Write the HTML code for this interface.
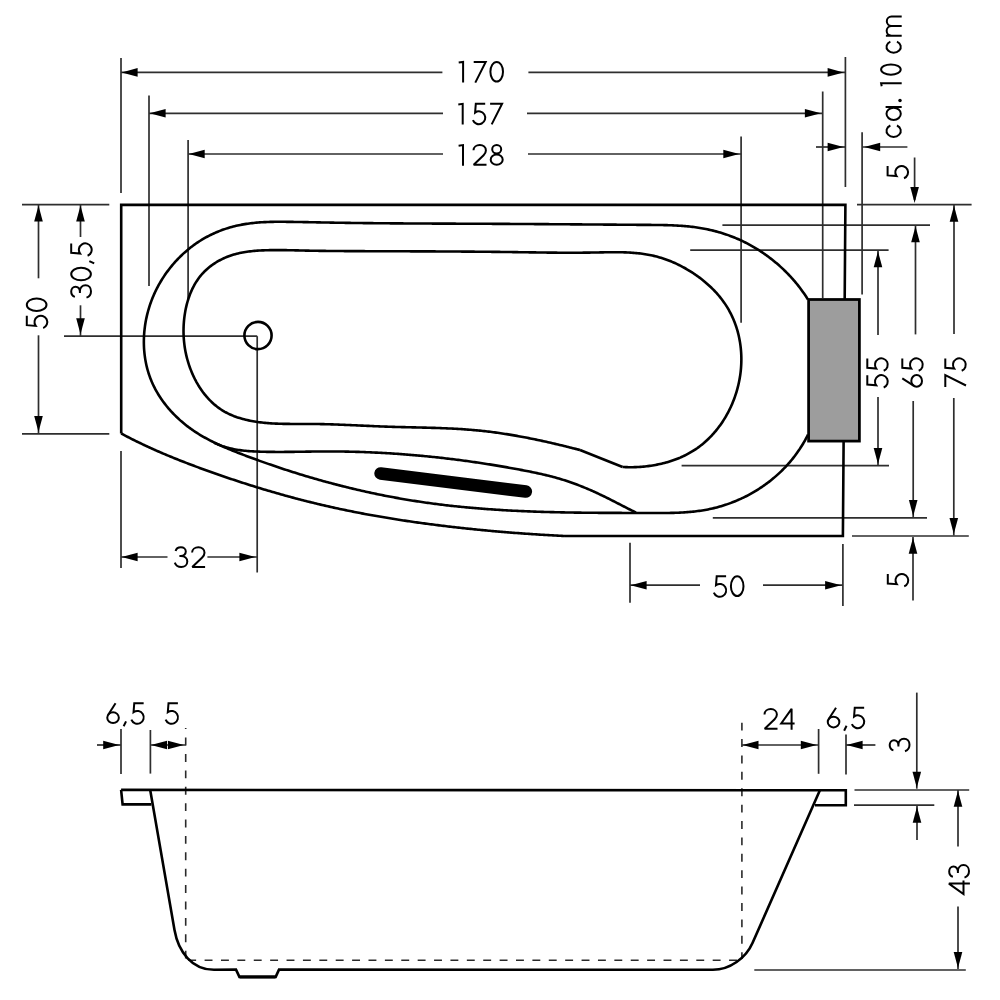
<!DOCTYPE html>
<html><head><meta charset="utf-8"><title>Bathtub drawing</title>
<style>html,body{margin:0;padding:0;background:#fff;font-family:"Liberation Sans",sans-serif;}svg{display:block}</style></head>
<body>
<svg width="1000" height="1000" viewBox="0 0 1000 1000" role="img" aria-label="Bathtub dimension drawing: top view and side view">
<rect width="1000" height="1000" fill="#fff"/>
<g stroke="#2e2e2e" stroke-width="1.7" fill="none" stroke-linecap="butt">
<line x1="121" y1="58" x2="121" y2="193"/>
<line x1="149" y1="95.5" x2="149" y2="286"/>
<line x1="188.1" y1="140" x2="188.1" y2="301"/>
<line x1="845.4" y1="57" x2="845.4" y2="187"/>
<line x1="822.7" y1="91.5" x2="822.7" y2="298"/>
<line x1="741.1" y1="136.4" x2="741.1" y2="322.8"/>
<line x1="862.1" y1="132.3" x2="862.1" y2="294.6"/>
<line x1="121" y1="72.4" x2="442.4" y2="72.4"/>
<polygon stroke="none" fill="#000" points="121.6,72.4 137.6,68.1 137.6,76.7"/>
<line x1="528.4" y1="72.4" x2="845.4" y2="72.4"/>
<polygon stroke="none" fill="#000" points="843.6,72.4 827.6,68.1 827.6,76.7"/>
<line x1="149" y1="113.3" x2="443" y2="113.3"/>
<polygon stroke="none" fill="#000" points="149.6,113.3 165.6,109 165.6,117.6"/>
<line x1="527" y1="113.3" x2="822.7" y2="113.3"/>
<polygon stroke="none" fill="#000" points="820.9,113.3 804.9,109 804.9,117.6"/>
<line x1="188.1" y1="154" x2="443" y2="154"/>
<polygon stroke="none" fill="#000" points="188.7,154 204.7,149.7 204.7,158.3"/>
<line x1="528" y1="154" x2="741.1" y2="154"/>
<polygon stroke="none" fill="#000" points="739.3,154 723.3,149.7 723.3,158.3"/>
<line x1="816" y1="147" x2="845.4" y2="147"/>
<polygon stroke="none" fill="#000" points="843.6,147 827.6,142.7 827.6,151.3"/>
<line x1="862.1" y1="147" x2="907.4" y2="147"/>
<polygon stroke="none" fill="#000" points="864.2,147 880.2,142.7 880.2,151.3"/>
<line x1="914.6" y1="157.5" x2="914.6" y2="200"/>
<polygon stroke="none" fill="#000" points="914.6,202.9 910.3,186.9 918.9,186.9"/>
<line x1="857" y1="204.7" x2="971.6" y2="204.7"/>
<line x1="954" y1="205" x2="954" y2="334"/>
<polygon stroke="none" fill="#000" points="954,205.8 949.7,221.8 958.3,221.8"/>
<line x1="953.8" y1="398" x2="953.8" y2="535.5"/>
<polygon stroke="none" fill="#000" points="953.8,534.1 949.5,518.1 958.1,518.1"/>
<line x1="722.4" y1="225.1" x2="930" y2="225.1"/>
<line x1="915.5" y1="225.5" x2="915.5" y2="334.4"/>
<polygon stroke="none" fill="#000" points="915.5,226.3 911.2,242.3 919.8,242.3"/>
<line x1="913.2" y1="401" x2="913.2" y2="517.5"/>
<polygon stroke="none" fill="#000" points="913.2,516.1 908.9,500.1 917.5,500.1"/>
<line x1="690.2" y1="250.1" x2="888.6" y2="250.1"/>
<line x1="878" y1="250.5" x2="878" y2="335"/>
<polygon stroke="none" fill="#000" points="878,251.3 873.7,267.3 882.3,267.3"/>
<line x1="878" y1="397" x2="878" y2="465.6"/>
<polygon stroke="none" fill="#000" points="878,463.9 873.7,447.9 882.3,447.9"/>
<line x1="681.6" y1="465.7" x2="889" y2="465.7"/>
<line x1="712.8" y1="517.8" x2="927" y2="517.8"/>
<line x1="852" y1="536" x2="968.8" y2="536"/>
<line x1="913" y1="537" x2="913" y2="600.5"/>
<polygon stroke="none" fill="#000" points="913,537.8 908.7,553.8 917.3,553.8"/>
<line x1="630" y1="542.8" x2="630" y2="602.8"/>
<line x1="842.9" y1="544" x2="842.9" y2="606"/>
<line x1="630" y1="585.2" x2="700" y2="585.2"/>
<polygon stroke="none" fill="#000" points="630.6,585.2 646.6,580.9 646.6,589.5"/>
<line x1="763" y1="585.2" x2="842.9" y2="585.2"/>
<polygon stroke="none" fill="#000" points="841.1,585.2 825.1,580.9 825.1,589.5"/>
<line x1="121" y1="451" x2="121" y2="568"/>
<line x1="257.2" y1="336.2" x2="257.2" y2="572.5"/>
<line x1="121" y1="557" x2="167.5" y2="557"/>
<polygon stroke="none" fill="#000" points="121.6,557 137.6,552.7 137.6,561.3"/>
<line x1="207.4" y1="557" x2="257.2" y2="557"/>
<polygon stroke="none" fill="#000" points="255.4,557 239.4,552.7 239.4,561.3"/>
<line x1="22" y1="204.7" x2="109.3" y2="204.7"/>
<line x1="22" y1="433.8" x2="109.3" y2="433.8"/>
<line x1="38.5" y1="204.7" x2="38.5" y2="278.3"/>
<polygon stroke="none" fill="#000" points="38.5,205.5 34.2,221.5 42.8,221.5"/>
<line x1="38.5" y1="335.3" x2="38.5" y2="433.8"/>
<polygon stroke="none" fill="#000" points="38.5,432.1 34.2,416.1 42.8,416.1"/>
<line x1="80.5" y1="204.7" x2="80.5" y2="237"/>
<polygon stroke="none" fill="#000" points="80.5,205.5 76.2,221.5 84.8,221.5"/>
<line x1="80.5" y1="305.3" x2="80.5" y2="336"/>
<polygon stroke="none" fill="#000" points="80.5,334.3 76.2,318.3 84.8,318.3"/>
<line x1="64" y1="336.1" x2="257.2" y2="336.1"/>
<line x1="121" y1="729" x2="121" y2="774"/>
<line x1="150.4" y1="730" x2="150.4" y2="773.6"/>
<line x1="97" y1="745" x2="121" y2="745"/>
<polygon stroke="none" fill="#000" points="119.2,745 103.2,740.7 103.2,749.3"/>
<line x1="150.4" y1="745" x2="185.7" y2="745"/>
<polygon stroke="none" fill="#000" points="151,745 167,740.7 167,749.3"/>
<polygon stroke="none" fill="#000" points="183.9,745 167.9,740.7 167.9,749.3"/>
<line x1="818.6" y1="729" x2="818.6" y2="773.8"/>
<line x1="846" y1="734.6" x2="846" y2="774.6"/>
<line x1="741.9" y1="745" x2="818.6" y2="745"/>
<polygon stroke="none" fill="#000" points="742.5,745 758.5,740.7 758.5,749.3"/>
<polygon stroke="none" fill="#000" points="816.8,745 800.8,740.7 800.8,749.3"/>
<line x1="846" y1="745" x2="875.4" y2="745"/>
<polygon stroke="none" fill="#000" points="846.6,745 862.6,740.7 862.6,749.3"/>
<line x1="916.8" y1="692.6" x2="916.8" y2="788.7"/>
<polygon stroke="none" fill="#000" points="916.8,787.8 912.5,771.8 921.1,771.8"/>
<line x1="854.5" y1="790" x2="969.2" y2="790"/>
<line x1="854" y1="805.1" x2="934.3" y2="805.1"/>
<line x1="917" y1="806" x2="917" y2="840"/>
<polygon stroke="none" fill="#000" points="917,806.8 912.7,822.8 921.3,822.8"/>
<line x1="958" y1="790" x2="958" y2="846.6"/>
<polygon stroke="none" fill="#000" points="958,790.8 953.7,806.8 962.3,806.8"/>
<line x1="958" y1="906.6" x2="958" y2="969"/>
<polygon stroke="none" fill="#000" points="958,967.9 953.7,951.9 962.3,951.9"/>
<line x1="754.3" y1="970" x2="965.8" y2="970"/>
</g>
<g stroke="#2a2a2a" stroke-width="1.6" fill="none" stroke-dasharray="7.9 8.49">
<path d="M185.7,728 L185.7,959" stroke-dashoffset="6.79"/>
<path d="M185.7,960.2 L741.9,960.2" stroke-dashoffset="13.88"/>
<path d="M741.9,722 L741.9,959" stroke-dashoffset="15.69"/>
</g>
<g stroke="#000" stroke-width="2.6" fill="none" stroke-linejoin="miter">
<path d="M121.2,433.5 L121.2,204.9 L845.4,204.9 L842.9,536 L565,536"/>
<path d="M565,536 L563.5,535.93 L561.99,535.85 L560.49,535.78 L558.99,535.7 L557.49,535.63 L555.98,535.55 L554.48,535.47 L552.98,535.39 L551.48,535.31 L549.97,535.22 L548.47,535.14 L546.97,535.05 L545.47,534.96 L543.97,534.87 L542.46,534.78 L540.96,534.69 L539.46,534.6 L537.96,534.51 L536.46,534.41 L534.95,534.32 L533.45,534.22 L531.95,534.12 L530.45,534.02 L528.95,533.92 L527.45,533.81 L525.94,533.71 L524.44,533.6 L522.94,533.5 L521.44,533.39 L519.94,533.28 L518.44,533.17 L516.94,533.06 L515.44,532.94 L513.94,532.83 L512.44,532.71 L510.94,532.59 L509.44,532.48 L507.94,532.36 L506.44,532.23 L504.94,532.11 L503.44,531.99 L501.94,531.86 L500.44,531.73 L498.94,531.61 L497.44,531.48 L495.94,531.35 L494.44,531.21 L492.94,531.08 L491.44,530.94 L489.94,530.81 L488.44,530.67 L486.94,530.53 L485.44,530.39 L483.95,530.25 L482.45,530.11 L480.95,529.96 L479.45,529.81 L477.95,529.67 L476.46,529.52 L474.96,529.37 L473.46,529.22 L471.96,529.06 L470.47,528.91 L468.97,528.75 L467.47,528.6 L465.98,528.44 L464.48,528.28 L462.98,528.12 L461.49,527.95 L459.99,527.79 L458.49,527.62 L457,527.45 L455.5,527.29 L454.01,527.12 L452.51,526.94 L451.02,526.77 L449.52,526.6 L448.03,526.42 L446.53,526.24 L445.04,526.07 L443.54,525.89 L442.05,525.7 L440.55,525.52 L439.06,525.34 L437.57,525.15 L436.07,524.96 L434.58,524.77 L433.09,524.58 L431.59,524.39 L430.1,524.2 L428.61,524 L427.12,523.8 L425.62,523.61 L424.13,523.41 L422.64,523.2 L421.15,523 L419.66,522.79 L418.17,522.59 L416.68,522.38 L415.19,522.17 L413.7,521.96 L412.21,521.74 L410.72,521.53 L409.23,521.31 L407.74,521.09 L406.25,520.87 L404.76,520.65 L403.27,520.42 L401.79,520.2 L400.3,519.97 L398.81,519.74 L397.33,519.51 L395.84,519.27 L394.35,519.04 L392.87,518.8 L391.38,518.56 L389.9,518.32 L388.41,518.08 L386.93,517.83 L385.44,517.59 L383.96,517.34 L382.48,517.09 L380.99,516.83 L379.51,516.58 L378.03,516.32 L376.55,516.06 L375.07,515.8 L373.58,515.54 L372.1,515.27 L370.62,515.01 L369.14,514.74 L367.66,514.47 L366.18,514.19 L364.71,513.92 L363.23,513.64 L361.75,513.36 L360.27,513.08 L358.8,512.79 L357.32,512.51 L355.84,512.22 L354.37,511.93 L352.89,511.64 L351.42,511.34 L349.94,511.04 L348.47,510.74 L346.99,510.44 L345.52,510.14 L344.05,509.83 L342.58,509.52 L341.11,509.21 L339.63,508.9 L338.16,508.58 L336.69,508.27 L335.22,507.95 L333.75,507.62 L332.29,507.3 L330.82,506.97 L329.35,506.64 L327.88,506.31 L326.42,505.97 L324.95,505.64 L323.49,505.3 L322.02,504.95 L320.56,504.61 L319.09,504.26 L317.63,503.91 L316.17,503.56 L314.7,503.21 L313.24,502.85 L311.78,502.49 L310.32,502.13 L308.86,501.77 L307.4,501.4 L305.94,501.03 L304.48,500.66 L303.03,500.29 L301.57,499.92 L300.11,499.54 L298.66,499.16 L297.2,498.78 L295.74,498.39 L294.29,498.01 L292.84,497.62 L291.38,497.23 L289.93,496.83 L288.48,496.44 L287.03,496.04 L285.57,495.64 L284.12,495.24 L282.67,494.83 L281.23,494.43 L279.78,494.02 L278.33,493.61 L276.88,493.19 L275.43,492.78 L273.99,492.36 L272.54,491.94 L271.1,491.52 L269.65,491.09 L268.21,490.67 L266.76,490.24 L265.32,489.81 L263.88,489.38 L262.44,488.94 L261,488.51 L259.56,488.07 L258.12,487.63 L256.68,487.19 L255.24,486.74 L253.8,486.3 L252.36,485.85 L250.93,485.4 L249.49,484.94 L248.05,484.49 L246.62,484.03 L245.19,483.58 L243.75,483.12 L242.32,482.65 L240.89,482.19 L239.45,481.72 L238.02,481.25 L236.59,480.78 L235.16,480.31 L233.73,479.84 L232.31,479.36 L230.88,478.89 L229.45,478.41 L228.02,477.93 L226.6,477.44 L225.17,476.96 L223.75,476.47 L222.32,475.98 L220.9,475.49 L219.48,475 L218.05,474.51 L216.63,474.01 L215.21,473.51 L213.79,473.02 L212.37,472.51 L210.95,472.01 L209.54,471.51 L208.12,471 L206.7,470.49 L205.29,469.98 L203.87,469.47 L202.46,468.96 L201.04,468.44 L199.63,467.92 L198.22,467.4 L196.81,466.88 L195.4,466.36 L193.99,465.83 L192.58,465.3 L191.17,464.77 L189.77,464.24 L188.36,463.7 L186.96,463.16 L185.55,462.62 L184.15,462.07 L182.75,461.53 L181.35,460.98 L179.95,460.43 L178.56,459.87 L177.16,459.31 L175.76,458.75 L174.37,458.19 L172.98,457.63 L171.59,457.06 L170.2,456.48 L168.81,455.91 L167.42,455.33 L166.03,454.75 L164.65,454.16 L163.27,453.58 L161.88,452.98 L160.5,452.39 L159.12,451.79 L157.75,451.19 L156.37,450.59 L155,449.98 L153.62,449.37 L152.25,448.75 L150.88,448.13 L149.51,447.51 L148.15,446.88 L146.78,446.25 L145.42,445.62 L144.06,444.98 L142.7,444.34 L141.34,443.69 L139.99,443.04 L138.63,442.39 L137.28,441.73 L135.93,441.07 L134.58,440.4 L133.23,439.73 L131.89,439.06 L130.54,438.38 L129.2,437.69 L127.86,437.01 L126.53,436.31 L125.19,435.62 L123.86,434.92 L122.53,434.21 L121.2,433.5"/>
<path d="M808,434.6 L807.32,435.97 L806.62,437.33 L805.91,438.68 L805.18,440.02 L804.44,441.34 L803.68,442.66 L802.91,443.97 L802.12,445.27 L801.32,446.56 L800.5,447.83 L799.67,449.1 L798.83,450.35 L797.97,451.6 L797.1,452.83 L796.21,454.06 L795.31,455.27 L794.4,456.47 L793.48,457.66 L792.54,458.84 L791.59,460.01 L790.63,461.16 L789.65,462.31 L788.66,463.44 L787.66,464.57 L786.65,465.68 L785.63,466.78 L784.59,467.87 L783.54,468.94 L782.48,470.01 L781.41,471.06 L780.33,472.1 L779.24,473.13 L778.14,474.15 L777.02,475.15 L775.9,476.15 L774.76,477.13 L773.62,478.1 L772.46,479.06 L771.3,480 L770.13,480.93 L768.94,481.85 L767.75,482.76 L766.54,483.65 L765.33,484.54 L764.11,485.41 L762.88,486.26 L761.64,487.11 L760.39,487.94 L759.14,488.76 L757.87,489.56 L756.6,490.35 L755.32,491.13 L754.03,491.9 L752.73,492.65 L751.43,493.39 L750.12,494.12 L748.8,494.83 L747.48,495.53 L746.14,496.22 L744.8,496.89 L743.46,497.55 L742.11,498.19 L740.75,498.82 L739.38,499.44 L738.01,500.04 L736.63,500.63 L735.25,501.21 L733.86,501.77 L732.47,502.32 L731.07,502.85 L729.67,503.37 L728.26,503.87 L726.84,504.36 L725.42,504.84 L724,505.3 L722.57,505.75 L721.14,506.18 L719.7,506.6 L718.26,507 L716.82,507.39 L715.37,507.76 L713.92,508.12 L712.47,508.46 L711.01,508.79 L709.55,509.1 L708.08,509.4 L706.62,509.68 L705.15,509.95 L703.68,510.21 L702.2,510.44 L700.73,510.67 L699.25,510.88 L697.77,511.08 L696.28,511.27 L694.8,511.44 L693.31,511.61 L691.82,511.76 L690.33,511.9 L688.83,512.03 L687.34,512.15 L685.84,512.26 L684.35,512.36 L682.85,512.45 L681.35,512.54 L679.84,512.61 L678.34,512.68 L676.84,512.74 L675.33,512.79 L673.83,512.84 L672.32,512.88 L670.81,512.91 L669.31,512.94 L667.8,512.96 L666.29,512.98 L664.78,513 L663.27,513.01 L661.76,513.02 L660.25,513.02 L658.74,513.02 L657.23,513.02 L655.72,513.02 L654.22,513.02 L652.71,513.01 L651.2,513 L649.69,513 L648.18,512.99 L646.68,512.99 L645.17,512.98 L643.67,512.98 L642.16,512.97 L640.66,512.97 L639.15,512.96 L637.65,512.96 L636.15,512.96 L634.65,512.95 L633.15,512.95 L631.64,512.95 L630.14,512.94 L628.64,512.94 L627.14,512.94 L625.64,512.93 L624.14,512.93 L622.64,512.93 L621.14,512.92 L619.64,512.92 L618.14,512.92 L616.64,512.91 L615.14,512.91 L613.64,512.9 L612.14,512.9 L610.64,512.89 L609.14,512.89 L607.64,512.88 L606.14,512.87 L604.64,512.87 L603.13,512.86 L601.63,512.85 L600.13,512.84 L598.63,512.83 L597.13,512.82 L595.62,512.81 L594.12,512.8 L592.62,512.79 L591.12,512.77 L589.62,512.76 L588.11,512.75 L586.61,512.73 L585.11,512.72 L583.6,512.7 L582.1,512.68 L580.6,512.66 L579.09,512.64 L577.59,512.63 L576.09,512.6 L574.58,512.58 L573.08,512.56 L571.58,512.54 L570.07,512.51 L568.57,512.49 L567.07,512.46 L565.56,512.43 L564.06,512.4 L562.56,512.37 L561.05,512.34 L559.55,512.31 L558.04,512.28 L556.54,512.25 L555.04,512.21 L553.53,512.17 L552.03,512.14 L550.52,512.1 L549.02,512.06 L547.52,512.02 L546.01,511.97 L544.51,511.93 L543.01,511.89 L541.5,511.84 L540,511.79 L538.5,511.74 L536.99,511.69 L535.49,511.64 L533.99,511.59 L532.48,511.53 L530.98,511.47 L529.48,511.42 L527.97,511.36 L526.47,511.3 L524.97,511.23 L523.46,511.17 L521.96,511.1 L520.46,511.04 L518.96,510.97 L517.46,510.9 L515.95,510.82 L514.45,510.75 L512.95,510.68 L511.45,510.6 L509.95,510.52 L508.44,510.44 L506.94,510.35 L505.44,510.27 L503.94,510.18 L502.44,510.1 L500.94,510.01 L499.44,509.91 L497.94,509.82 L496.44,509.72 L494.94,509.63 L493.44,509.53 L491.94,509.42 L490.44,509.32 L488.94,509.21 L487.44,509.11 L485.95,509 L484.45,508.88 L482.95,508.77 L481.45,508.65 L479.95,508.54 L478.46,508.41 L476.96,508.29 L475.46,508.17 L473.97,508.04 L472.47,507.91 L470.97,507.78 L469.48,507.64 L467.98,507.51 L466.49,507.37 L464.99,507.23 L463.5,507.08 L462,506.94 L460.51,506.79 L459.02,506.64 L457.52,506.49 L456.03,506.33 L454.54,506.17 L453.05,506.01 L451.55,505.85 L450.06,505.68 L448.57,505.51 L447.08,505.34 L445.59,505.17 L444.1,504.99 L442.61,504.82 L441.12,504.63 L439.63,504.45 L438.14,504.26 L436.65,504.07 L435.17,503.88 L433.68,503.69 L432.19,503.49 L430.7,503.29 L429.22,503.08 L427.73,502.88 L426.25,502.67 L424.76,502.46 L423.28,502.24 L421.79,502.02 L420.31,501.8 L418.82,501.58 L417.34,501.35 L415.86,501.12 L414.38,500.89 L412.9,500.66 L411.41,500.42 L409.93,500.18 L408.45,499.93 L406.97,499.69 L405.5,499.44 L404.02,499.19 L402.54,498.93 L401.06,498.67 L399.58,498.41 L398.11,498.15 L396.63,497.88 L395.15,497.62 L393.68,497.34 L392.2,497.07 L390.73,496.79 L389.25,496.51 L387.78,496.23 L386.31,495.94 L384.84,495.66 L383.36,495.37 L381.89,495.07 L380.42,494.77 L378.95,494.48 L377.48,494.17 L376.01,493.87 L374.54,493.56 L373.07,493.25 L371.61,492.94 L370.14,492.62 L368.67,492.31 L367.21,491.98 L365.74,491.66 L364.28,491.34 L362.81,491.01 L361.35,490.67 L359.88,490.34 L358.42,490 L356.96,489.66 L355.5,489.32 L354.04,488.98 L352.57,488.63 L351.11,488.28 L349.66,487.93 L348.2,487.57 L346.74,487.21 L345.28,486.85 L343.82,486.49 L342.37,486.12 L340.91,485.75 L339.46,485.38 L338,485.01 L336.55,484.63 L335.09,484.25 L333.64,483.87 L332.19,483.49 L330.74,483.1 L329.28,482.71 L327.83,482.32 L326.38,481.93 L324.93,481.53 L323.49,481.13 L322.04,480.73 L320.59,480.32 L319.14,479.92 L317.7,479.51 L316.25,479.1 L314.81,478.68 L313.36,478.26 L311.92,477.84 L310.48,477.42 L309.03,477 L307.59,476.57 L306.15,476.14 L304.71,475.71 L303.27,475.27 L301.83,474.84 L300.39,474.4 L298.96,473.96 L297.52,473.51 L296.08,473.06 L294.65,472.61 L293.21,472.16 L291.78,471.71 L290.35,471.25 L288.91,470.79 L287.48,470.33 L286.05,469.87 L284.62,469.4 L283.19,468.93 L281.76,468.46 L280.33,467.99 L278.9,467.51 L277.48,467.03 L276.05,466.55 L274.63,466.07 L273.2,465.58 L271.78,465.1 L270.35,464.6 L268.93,464.11 L267.51,463.62 L266.09,463.12 L264.67,462.62 L263.25,462.12 L261.83,461.61 L260.41,461.11 L258.99,460.6 L257.58,460.09 L256.16,459.57 L254.74,459.06 L253.33,458.54 L251.92,458.02 L250.5,457.49 L249.09,456.97 L247.68,456.44 L246.27,455.91 L244.86,455.38 L243.45,454.84 L242.04,454.31 L240.64,453.77 L239.23,453.23 L237.83,452.68 L236.42,452.13 L235.02,451.58 L233.62,451.02 L232.23,450.46 L230.83,449.89 L229.44,449.32 L228.05,448.74 L226.67,448.16 L225.29,447.57 L223.91,446.97 L222.53,446.37 L221.16,445.76 L219.79,445.14 L218.43,444.51 L217.07,443.88 L215.72,443.24 L214.37,442.59 L213.03,441.93 L211.69,441.26 L210.35,440.58 L209.03,439.89 L207.71,439.19 L206.39,438.48 L205.08,437.76 L203.78,437.03 L202.48,436.29 L201.19,435.53 L199.91,434.77 L198.64,433.99 L197.37,433.19 L196.11,432.39 L194.86,431.57 L193.62,430.74 L192.38,429.89 L191.15,429.03 L189.94,428.15 L188.73,427.26 L187.53,426.35 L186.34,425.43 L185.16,424.5 L183.99,423.55 L182.83,422.58 L181.68,421.6 L180.54,420.61 L179.41,419.6 L178.3,418.58 L177.19,417.54 L176.1,416.49 L175.03,415.43 L173.96,414.36 L172.91,413.27 L171.88,412.17 L170.85,411.05 L169.85,409.93 L168.85,408.79 L167.87,407.64 L166.91,406.47 L165.97,405.3 L165.04,404.11 L164.12,402.92 L163.22,401.71 L162.34,400.49 L161.48,399.26 L160.64,398.02 L159.81,396.76 L159,395.5 L158.21,394.23 L157.44,392.95 L156.69,391.65 L155.96,390.35 L155.25,389.04 L154.56,387.72 L153.89,386.38 L153.24,385.04 L152.62,383.69 L152.01,382.34 L151.43,380.97 L150.87,379.59 L150.33,378.21 L149.81,376.82 L149.32,375.42 L148.85,374.02 L148.4,372.6 L147.97,371.18 L147.56,369.76 L147.18,368.33 L146.81,366.89 L146.47,365.44 L146.15,363.99 L145.85,362.54 L145.57,361.08 L145.32,359.62 L145.08,358.15 L144.87,356.68 L144.67,355.2 L144.5,353.72 L144.35,352.24 L144.22,350.75 L144.1,349.26 L144.01,347.77 L143.95,346.28 L143.9,344.78 L143.87,343.29 L143.86,341.79 L143.87,340.29 L143.9,338.79 L143.96,337.29 L144.03,335.79 L144.12,334.29 L144.23,332.79 L144.36,331.29 L144.52,329.79 L144.69,328.29 L144.88,326.8 L145.09,325.3 L145.32,323.81 L145.57,322.32 L145.84,320.83 L146.12,319.34 L146.43,317.86 L146.76,316.38 L147.1,314.91 L147.47,313.44 L147.85,311.97 L148.25,310.5 L148.67,309.05 L149.11,307.59 L149.57,306.14 L150.04,304.7 L150.54,303.26 L151.05,301.83 L151.58,300.41 L152.13,298.99 L152.69,297.58 L153.28,296.17 L153.88,294.77 L154.5,293.38 L155.14,292 L155.8,290.63 L156.47,289.26 L157.16,287.9 L157.87,286.56 L158.6,285.22 L159.34,283.89 L160.1,282.56 L160.87,281.25 L161.66,279.95 L162.47,278.66 L163.29,277.38 L164.13,276.11 L164.99,274.84 L165.86,273.59 L166.74,272.36 L167.64,271.13 L168.55,269.91 L169.48,268.71 L170.43,267.51 L171.38,266.33 L172.35,265.16 L173.34,264.01 L174.34,262.86 L175.35,261.73 L176.37,260.61 L177.41,259.51 L178.46,258.41 L179.53,257.34 L180.6,256.27 L181.69,255.22 L182.79,254.18 L183.91,253.16 L185.03,252.16 L186.17,251.16 L187.32,250.19 L188.47,249.22 L189.64,248.28 L190.82,247.35 L192.02,246.43 L193.22,245.53 L194.43,244.65 L195.65,243.78 L196.88,242.93 L198.13,242.1 L199.38,241.28 L200.64,240.48 L201.91,239.7 L203.19,238.94 L204.47,238.19 L205.77,237.46 L207.07,236.75 L208.39,236.06 L209.71,235.38 L211.04,234.72 L212.37,234.08 L213.72,233.46 L215.07,232.86 L216.43,232.27 L217.79,231.7 L219.17,231.15 L220.54,230.61 L221.93,230.09 L223.32,229.59 L224.72,229.11 L226.12,228.64 L227.53,228.19 L228.95,227.76 L230.37,227.35 L231.79,226.95 L233.22,226.57 L234.66,226.2 L236.1,225.85 L237.54,225.52 L238.99,225.21 L240.45,224.91 L241.9,224.63 L243.36,224.37 L244.83,224.12 L246.3,223.88 L247.77,223.67 L249.24,223.46 L250.72,223.28 L252.2,223.1 L253.68,222.94 L255.17,222.79 L256.66,222.66 L258.15,222.53 L259.64,222.42 L261.14,222.32 L262.63,222.23 L264.13,222.15 L265.64,222.08 L267.14,222.01 L268.64,221.96 L270.15,221.92 L271.66,221.88 L273.16,221.85 L274.67,221.82 L276.18,221.81 L277.69,221.8 L279.2,221.79 L280.72,221.79 L282.23,221.79 L283.74,221.8 L285.25,221.81 L286.77,221.83 L288.28,221.84 L289.79,221.86 L291.3,221.88 L292.81,221.91 L294.32,221.93 L295.83,221.95 L297.34,221.98 L298.85,222 L300.36,222.03 L301.87,222.05 L303.37,222.08 L304.88,222.11 L306.39,222.14 L307.89,222.17 L309.4,222.19 L310.91,222.22 L312.41,222.25 L313.92,222.28 L315.42,222.31 L316.92,222.34 L318.43,222.37 L319.93,222.4 L321.44,222.43 L322.94,222.46 L324.44,222.49 L325.95,222.52 L327.45,222.54 L328.95,222.57 L330.46,222.6 L331.96,222.63 L333.46,222.65 L334.97,222.68 L336.47,222.7 L337.97,222.73 L339.48,222.75 L340.98,222.77 L342.48,222.8 L343.99,222.82 L345.49,222.84 L346.99,222.86 L348.49,222.89 L350,222.91 L351.5,222.93 L353,222.95 L354.51,222.97 L356.01,222.99 L357.51,223.01 L359.02,223.02 L360.52,223.04 L362.02,223.06 L363.52,223.08 L365.03,223.09 L366.53,223.11 L368.03,223.13 L369.53,223.14 L371.04,223.16 L372.54,223.17 L374.04,223.19 L375.55,223.2 L377.05,223.22 L378.55,223.23 L380.05,223.25 L381.56,223.26 L383.06,223.27 L384.56,223.29 L386.06,223.3 L387.57,223.31 L389.07,223.32 L390.57,223.33 L392.07,223.35 L393.58,223.36 L395.08,223.37 L396.58,223.38 L398.08,223.39 L399.58,223.4 L401.09,223.41 L402.59,223.42 L404.09,223.43 L405.59,223.44 L407.1,223.45 L408.6,223.46 L410.1,223.47 L411.6,223.47 L413.11,223.48 L414.61,223.49 L416.11,223.5 L417.61,223.51 L419.11,223.51 L420.62,223.52 L422.12,223.53 L423.62,223.54 L425.12,223.54 L426.62,223.55 L428.13,223.56 L429.63,223.57 L431.13,223.57 L432.63,223.58 L434.13,223.59 L435.64,223.59 L437.14,223.6 L438.64,223.61 L440.14,223.61 L441.64,223.62 L443.15,223.62 L444.65,223.63 L446.15,223.64 L447.65,223.64 L449.15,223.65 L450.66,223.65 L452.16,223.66 L453.66,223.67 L455.16,223.67 L456.66,223.68 L458.17,223.68 L459.67,223.69 L461.17,223.69 L462.67,223.7 L464.17,223.71 L465.67,223.71 L467.18,223.72 L468.68,223.72 L470.18,223.73 L471.68,223.74 L473.18,223.74 L474.69,223.75 L476.19,223.76 L477.69,223.76 L479.19,223.77 L480.69,223.78 L482.19,223.78 L483.7,223.79 L485.2,223.8 L486.7,223.8 L488.2,223.81 L489.7,223.82 L491.2,223.82 L492.71,223.83 L494.21,223.84 L495.71,223.85 L497.21,223.85 L498.71,223.86 L500.21,223.87 L501.72,223.88 L503.22,223.89 L504.72,223.89 L506.22,223.9 L507.72,223.91 L509.23,223.92 L510.73,223.93 L512.23,223.94 L513.73,223.95 L515.23,223.96 L516.73,223.96 L518.24,223.97 L519.74,223.98 L521.24,223.99 L522.74,224 L524.24,224.01 L525.75,224.02 L527.25,224.03 L528.75,224.04 L530.25,224.05 L531.75,224.06 L533.26,224.07 L534.76,224.08 L536.26,224.09 L537.76,224.1 L539.26,224.11 L540.77,224.12 L542.27,224.13 L543.77,224.14 L545.27,224.15 L546.77,224.16 L548.28,224.17 L549.78,224.18 L551.28,224.19 L552.78,224.2 L554.29,224.22 L555.79,224.23 L557.29,224.24 L558.79,224.25 L560.3,224.26 L561.8,224.27 L563.3,224.28 L564.8,224.29 L566.31,224.3 L567.81,224.31 L569.31,224.32 L570.81,224.34 L572.32,224.35 L573.82,224.36 L575.32,224.37 L576.82,224.38 L578.33,224.39 L579.83,224.4 L581.33,224.41 L582.84,224.43 L584.34,224.44 L585.84,224.45 L587.35,224.46 L588.85,224.47 L590.35,224.48 L591.86,224.49 L593.36,224.5 L594.86,224.52 L596.37,224.53 L597.87,224.54 L599.37,224.55 L600.88,224.56 L602.38,224.57 L603.88,224.58 L605.39,224.6 L606.89,224.61 L608.4,224.62 L609.9,224.63 L611.4,224.64 L612.91,224.65 L614.41,224.66 L615.92,224.67 L617.42,224.68 L618.92,224.7 L620.43,224.71 L621.93,224.72 L623.44,224.73 L624.94,224.74 L626.45,224.75 L627.95,224.76 L629.46,224.77 L630.96,224.78 L632.47,224.79 L633.97,224.81 L635.48,224.82 L636.98,224.83 L638.49,224.84 L639.99,224.85 L641.5,224.86 L643,224.87 L644.51,224.88 L646.01,224.89 L647.52,224.9 L649.03,224.91 L650.53,224.92 L652.04,224.93 L653.54,224.94 L655.05,224.96 L656.55,224.97 L658.06,224.99 L659.56,225.01 L661.07,225.03 L662.57,225.06 L664.08,225.09 L665.58,225.12 L667.08,225.16 L668.58,225.21 L670.08,225.25 L671.58,225.31 L673.08,225.37 L674.58,225.44 L676.08,225.51 L677.58,225.59 L679.07,225.68 L680.57,225.78 L682.06,225.88 L683.55,226 L685.05,226.12 L686.54,226.25 L688.02,226.39 L689.51,226.55 L691,226.71 L692.48,226.88 L693.96,227.07 L695.45,227.27 L696.93,227.48 L698.4,227.7 L699.88,227.94 L701.35,228.18 L702.82,228.44 L704.29,228.72 L705.76,229 L707.22,229.3 L708.69,229.61 L710.14,229.94 L711.6,230.28 L713.05,230.63 L714.5,230.99 L715.95,231.37 L717.39,231.76 L718.83,232.17 L720.27,232.59 L721.7,233.02 L723.13,233.46 L724.55,233.92 L725.97,234.4 L727.39,234.89 L728.8,235.39 L730.2,235.91 L731.6,236.44 L733,236.98 L734.39,237.54 L735.78,238.12 L737.16,238.71 L738.54,239.31 L739.91,239.92 L741.27,240.55 L742.63,241.2 L743.99,241.85 L745.33,242.53 L746.67,243.21 L748.01,243.91 L749.34,244.62 L750.66,245.34 L751.97,246.08 L753.28,246.83 L754.59,247.59 L755.88,248.36 L757.17,249.15 L758.45,249.95 L759.72,250.76 L760.99,251.59 L762.24,252.42 L763.49,253.27 L764.73,254.13 L765.97,255 L767.19,255.89 L768.41,256.78 L769.62,257.69 L770.82,258.61 L772.01,259.54 L773.19,260.48 L774.37,261.43 L775.53,262.39 L776.69,263.36 L777.83,264.35 L778.97,265.34 L780.1,266.35 L781.21,267.36 L782.32,268.39 L783.42,269.43 L784.5,270.47 L785.58,271.53 L786.65,272.59 L787.7,273.67 L788.75,274.76 L789.78,275.85 L790.81,276.96 L791.82,278.07 L792.82,279.19 L793.81,280.33 L794.79,281.47 L795.75,282.62 L796.71,283.78 L797.65,284.94 L798.58,286.12 L799.5,287.31 L800.41,288.5 L801.3,289.7 L802.19,290.91 L803.06,292.13 L803.91,293.35 L804.76,294.59 L805.59,295.83 L806.4,297.08 L807.21,298.34 L808,299.6"/>
<path d="M622.6,467 L580,450"/>
<path d="M580,450 L578.55,449.63 L577.09,449.25 L575.64,448.88 L574.18,448.51 L572.73,448.14 L571.27,447.78 L569.82,447.41 L568.36,447.05 L566.9,446.69 L565.44,446.33 L563.98,445.97 L562.52,445.61 L561.06,445.26 L559.6,444.91 L558.14,444.56 L556.68,444.21 L555.21,443.87 L553.75,443.53 L552.29,443.19 L550.82,442.85 L549.36,442.51 L547.89,442.18 L546.42,441.85 L544.96,441.53 L543.49,441.2 L542.02,440.88 L540.55,440.56 L539.08,440.24 L537.61,439.93 L536.14,439.62 L534.67,439.32 L533.2,439.01 L531.72,438.71 L530.25,438.41 L528.78,438.12 L527.3,437.83 L525.83,437.54 L524.35,437.26 L522.87,436.98 L521.4,436.7 L519.92,436.43 L518.44,436.16 L516.96,435.89 L515.48,435.63 L514,435.38 L512.52,435.12 L511.04,434.87 L509.56,434.63 L508.08,434.38 L506.6,434.15 L505.11,433.91 L503.63,433.68 L502.14,433.46 L500.66,433.24 L499.17,433.02 L497.69,432.81 L496.2,432.6 L494.71,432.4 L493.23,432.2 L491.74,432.01 L490.25,431.82 L488.76,431.64 L487.27,431.46 L485.78,431.28 L484.29,431.12 L482.8,430.95 L481.31,430.79 L479.81,430.64 L478.32,430.49 L476.83,430.35 L475.33,430.21 L473.84,430.08 L472.34,429.95 L470.85,429.82 L469.35,429.7 L467.86,429.59 L466.36,429.48 L464.86,429.37 L463.36,429.27 L461.87,429.17 L460.37,429.07 L458.87,428.98 L457.37,428.89 L455.87,428.81 L454.37,428.73 L452.87,428.65 L451.37,428.57 L449.87,428.5 L448.37,428.43 L446.87,428.37 L445.36,428.3 L443.86,428.24 L442.36,428.18 L440.86,428.13 L439.36,428.07 L437.85,428.02 L436.35,427.97 L434.85,427.92 L433.34,427.88 L431.84,427.83 L430.34,427.79 L428.83,427.74 L427.33,427.7 L425.83,427.66 L424.32,427.63 L422.82,427.59 L421.32,427.55 L419.81,427.51 L418.31,427.48 L416.8,427.44 L415.3,427.41 L413.8,427.37 L412.29,427.34 L410.79,427.3 L409.28,427.27 L407.78,427.23 L406.28,427.2 L404.77,427.16 L403.27,427.12 L401.77,427.09 L400.26,427.05 L398.76,427.01 L397.26,426.97 L395.75,426.93 L394.25,426.88 L392.75,426.84 L391.25,426.79 L389.75,426.75 L388.24,426.7 L386.74,426.65 L385.24,426.59 L383.74,426.54 L382.24,426.48 L380.74,426.43 L379.24,426.37 L377.74,426.31 L376.24,426.25 L374.74,426.18 L373.24,426.12 L371.74,426.05 L370.24,425.99 L368.74,425.92 L367.24,425.86 L365.74,425.79 L364.24,425.72 L362.74,425.66 L361.24,425.59 L359.74,425.52 L358.25,425.45 L356.75,425.39 L355.25,425.32 L353.75,425.25 L352.25,425.19 L350.75,425.12 L349.25,425.06 L347.75,424.99 L346.25,424.93 L344.75,424.87 L343.26,424.8 L341.76,424.74 L340.26,424.69 L338.76,424.63 L337.26,424.57 L335.76,424.52 L334.26,424.47 L332.76,424.41 L331.26,424.37 L329.76,424.32 L328.26,424.27 L326.76,424.23 L325.26,424.19 L323.76,424.16 L322.26,424.12 L320.75,424.09 L319.25,424.06 L317.75,424.03 L316.25,424.01 L314.75,423.99 L313.24,423.97 L311.74,423.96 L310.24,423.95 L308.73,423.94 L307.23,423.93 L305.73,423.93 L304.22,423.93 L302.72,423.93 L301.21,423.94 L299.71,423.94 L298.2,423.94 L296.7,423.94 L295.19,423.94 L293.68,423.94 L292.18,423.94 L290.67,423.93 L289.17,423.92 L287.66,423.91 L286.16,423.89 L284.65,423.87 L283.14,423.84 L281.64,423.8 L280.13,423.76 L278.62,423.71 L277.12,423.65 L275.61,423.59 L274.11,423.51 L272.6,423.43 L271.1,423.34 L269.59,423.23 L268.08,423.12 L266.58,422.99 L265.07,422.85 L263.57,422.7 L262.07,422.54 L260.56,422.36 L259.06,422.17 L257.55,421.96 L256.05,421.74 L254.55,421.5 L253.06,421.24 L251.56,420.97 L250.07,420.68 L248.59,420.37 L247.11,420.05 L245.64,419.7 L244.18,419.33 L242.72,418.95 L241.27,418.54 L239.83,418.11 L238.4,417.66 L236.98,417.19 L235.58,416.69 L234.18,416.17 L232.8,415.62 L231.43,415.05 L230.07,414.45 L228.74,413.83 L227.41,413.18 L226.1,412.5 L224.81,411.8 L223.54,411.06 L222.29,410.3 L221.05,409.51 L219.83,408.69 L218.64,407.84 L217.46,406.96 L216.3,406.06 L215.16,405.13 L214.04,404.18 L212.94,403.2 L211.86,402.2 L210.79,401.17 L209.75,400.13 L208.73,399.05 L207.72,397.96 L206.74,396.85 L205.77,395.71 L204.83,394.56 L203.9,393.38 L202.99,392.19 L202.11,390.98 L201.24,389.75 L200.4,388.51 L199.57,387.25 L198.77,385.97 L197.98,384.68 L197.22,383.37 L196.47,382.05 L195.75,380.71 L195.04,379.37 L194.36,378.01 L193.7,376.64 L193.05,375.26 L192.43,373.87 L191.83,372.46 L191.25,371.05 L190.69,369.64 L190.15,368.21 L189.63,366.78 L189.14,365.34 L188.66,363.89 L188.21,362.44 L187.77,360.98 L187.36,359.52 L186.97,358.06 L186.6,356.59 L186.25,355.11 L185.92,353.63 L185.62,352.15 L185.33,350.67 L185.07,349.18 L184.82,347.69 L184.6,346.2 L184.4,344.7 L184.22,343.2 L184.06,341.7 L183.92,340.2 L183.8,338.7 L183.7,337.19 L183.63,335.69 L183.57,334.18 L183.54,332.67 L183.52,331.16 L183.53,329.65 L183.56,328.14 L183.61,326.63 L183.68,325.13 L183.77,323.62 L183.88,322.11 L184.01,320.6 L184.16,319.1 L184.33,317.59 L184.53,316.09 L184.74,314.59 L184.98,313.09 L185.23,311.59 L185.51,310.1 L185.81,308.61 L186.14,307.13 L186.48,305.65 L186.85,304.18 L187.24,302.72 L187.65,301.27 L188.09,299.82 L188.55,298.38 L189.03,296.96 L189.54,295.55 L190.08,294.14 L190.63,292.75 L191.22,291.38 L191.83,290.01 L192.46,288.67 L193.13,287.33 L193.81,286.02 L194.53,284.72 L195.27,283.43 L196.04,282.17 L196.84,280.93 L197.66,279.7 L198.51,278.5 L199.39,277.31 L200.3,276.15 L201.24,275.01 L202.21,273.9 L203.21,272.81 L204.24,271.74 L205.29,270.7 L206.38,269.68 L207.49,268.69 L208.62,267.73 L209.78,266.79 L210.97,265.87 L212.17,264.99 L213.4,264.13 L214.65,263.3 L215.92,262.49 L217.21,261.71 L218.51,260.96 L219.84,260.24 L221.17,259.54 L222.53,258.88 L223.89,258.24 L225.27,257.63 L226.66,257.05 L228.06,256.5 L229.47,255.98 L230.89,255.49 L232.32,255.02 L233.76,254.59 L235.2,254.18 L236.65,253.79 L238.11,253.43 L239.58,253.1 L241.05,252.79 L242.52,252.5 L244.01,252.23 L245.49,251.99 L246.99,251.76 L248.48,251.55 L249.98,251.36 L251.48,251.19 L252.99,251.03 L254.5,250.89 L256.01,250.77 L257.52,250.66 L259.03,250.56 L260.55,250.47 L262.06,250.4 L263.58,250.33 L265.1,250.28 L266.61,250.23 L268.12,250.19 L269.63,250.16 L271.15,250.13 L272.65,250.11 L274.16,250.1 L275.67,250.09 L277.18,250.09 L278.68,250.09 L280.18,250.1 L281.69,250.11 L283.19,250.13 L284.69,250.15 L286.19,250.17 L287.69,250.2 L289.19,250.22 L290.69,250.25 L292.19,250.28 L293.69,250.32 L295.18,250.35 L296.68,250.39 L298.18,250.42 L299.68,250.46 L301.17,250.49 L302.67,250.53 L304.17,250.56 L305.67,250.59 L307.16,250.63 L308.66,250.65 L310.16,250.68 L311.66,250.71 L313.16,250.74 L314.65,250.76 L316.15,250.79 L317.65,250.81 L319.15,250.83 L320.65,250.85 L322.15,250.87 L323.65,250.89 L325.15,250.91 L326.65,250.93 L328.15,250.95 L329.65,250.96 L331.15,250.98 L332.65,250.99 L334.15,251.01 L335.65,251.02 L337.15,251.03 L338.65,251.04 L340.15,251.05 L341.65,251.06 L343.15,251.07 L344.65,251.08 L346.15,251.09 L347.66,251.1 L349.16,251.11 L350.66,251.12 L352.16,251.12 L353.66,251.13 L355.16,251.14 L356.67,251.14 L358.17,251.15 L359.67,251.16 L361.17,251.16 L362.68,251.17 L364.18,251.17 L365.68,251.18 L367.18,251.19 L368.69,251.19 L370.19,251.2 L371.69,251.2 L373.2,251.21 L374.7,251.21 L376.2,251.22 L377.7,251.22 L379.21,251.23 L380.71,251.23 L382.22,251.24 L383.72,251.24 L385.22,251.25 L386.73,251.25 L388.23,251.26 L389.73,251.26 L391.24,251.27 L392.74,251.27 L394.24,251.28 L395.75,251.28 L397.25,251.29 L398.76,251.29 L400.26,251.29 L401.76,251.3 L403.27,251.3 L404.77,251.31 L406.28,251.31 L407.78,251.32 L409.29,251.32 L410.79,251.33 L412.29,251.34 L413.8,251.34 L415.3,251.35 L416.81,251.35 L418.31,251.36 L419.81,251.36 L421.32,251.37 L422.82,251.37 L424.33,251.38 L425.83,251.39 L427.34,251.39 L428.84,251.4 L430.34,251.4 L431.85,251.41 L433.35,251.42 L434.86,251.42 L436.36,251.43 L437.86,251.44 L439.37,251.45 L440.87,251.45 L442.37,251.46 L443.88,251.47 L445.38,251.48 L446.89,251.48 L448.39,251.49 L449.89,251.5 L451.4,251.51 L452.9,251.52 L454.4,251.53 L455.91,251.54 L457.41,251.55 L458.91,251.56 L460.41,251.57 L461.92,251.58 L463.42,251.59 L464.92,251.6 L466.43,251.61 L467.93,251.62 L469.43,251.63 L470.93,251.64 L472.44,251.65 L473.94,251.67 L475.44,251.68 L476.94,251.69 L478.44,251.7 L479.95,251.72 L481.45,251.73 L482.95,251.74 L484.45,251.76 L485.95,251.77 L487.45,251.79 L488.95,251.8 L490.45,251.82 L491.95,251.83 L493.46,251.85 L494.96,251.87 L496.46,251.88 L497.96,251.9 L499.46,251.92 L500.96,251.94 L502.46,251.95 L503.96,251.97 L505.45,251.99 L506.95,252.01 L508.45,252.03 L509.95,252.05 L511.45,252.07 L512.95,252.09 L514.45,252.11 L515.95,252.13 L517.44,252.16 L518.94,252.18 L520.44,252.2 L521.94,252.22 L523.43,252.24 L524.93,252.27 L526.43,252.29 L527.93,252.31 L529.43,252.33 L530.92,252.36 L532.42,252.38 L533.92,252.4 L535.42,252.42 L536.91,252.44 L538.41,252.46 L539.91,252.48 L541.41,252.5 L542.91,252.52 L544.41,252.54 L545.91,252.56 L547.4,252.58 L548.9,252.59 L550.4,252.61 L551.9,252.63 L553.4,252.64 L554.9,252.65 L556.41,252.66 L557.91,252.68 L559.41,252.69 L560.91,252.7 L562.41,252.7 L563.92,252.71 L565.42,252.72 L566.92,252.72 L568.43,252.72 L569.93,252.72 L571.44,252.72 L572.94,252.72 L574.45,252.72 L575.96,252.71 L577.47,252.71 L578.97,252.7 L580.48,252.69 L581.99,252.68 L583.5,252.67 L585.01,252.65 L586.52,252.63 L588.04,252.61 L589.55,252.59 L591.06,252.57 L592.58,252.54 L594.09,252.52 L595.61,252.49 L597.13,252.46 L598.64,252.43 L600.16,252.4 L601.68,252.37 L603.19,252.34 L604.71,252.31 L606.23,252.29 L607.74,252.27 L609.26,252.25 L610.77,252.24 L612.29,252.23 L613.8,252.22 L615.31,252.22 L616.83,252.23 L618.34,252.24 L619.84,252.26 L621.35,252.29 L622.86,252.32 L624.36,252.37 L625.86,252.42 L627.36,252.48 L628.86,252.56 L630.35,252.64 L631.85,252.74 L633.34,252.84 L634.82,252.96 L636.31,253.1 L637.79,253.24 L639.27,253.4 L640.74,253.57 L642.21,253.76 L643.68,253.97 L645.15,254.19 L646.61,254.42 L648.07,254.68 L649.52,254.95 L650.97,255.24 L652.41,255.55 L653.85,255.87 L655.29,256.22 L656.72,256.59 L658.15,256.97 L659.57,257.38 L660.99,257.8 L662.4,258.24 L663.81,258.7 L665.21,259.18 L666.61,259.68 L668,260.2 L669.38,260.73 L670.77,261.29 L672.14,261.86 L673.51,262.45 L674.87,263.05 L676.23,263.67 L677.58,264.31 L678.93,264.97 L680.27,265.64 L681.6,266.34 L682.93,267.04 L684.25,267.76 L685.57,268.5 L686.88,269.26 L688.18,270.03 L689.47,270.82 L690.76,271.62 L692.04,272.44 L693.31,273.27 L694.58,274.12 L695.84,274.98 L697.08,275.86 L698.32,276.75 L699.55,277.66 L700.77,278.58 L701.97,279.52 L703.17,280.47 L704.35,281.44 L705.53,282.42 L706.68,283.41 L707.83,284.42 L708.96,285.44 L710.08,286.48 L711.19,287.53 L712.27,288.6 L713.35,289.67 L714.41,290.76 L715.45,291.87 L716.47,292.99 L717.48,294.12 L718.47,295.26 L719.44,296.42 L720.39,297.59 L721.33,298.77 L722.24,299.96 L723.14,301.17 L724.01,302.39 L724.87,303.62 L725.7,304.87 L726.51,306.12 L727.3,307.39 L728.06,308.67 L728.81,309.96 L729.53,311.26 L730.23,312.58 L730.91,313.9 L731.57,315.23 L732.2,316.58 L732.82,317.93 L733.41,319.29 L733.98,320.66 L734.53,322.04 L735.06,323.43 L735.56,324.83 L736.05,326.23 L736.51,327.65 L736.95,329.06 L737.37,330.49 L737.77,331.92 L738.15,333.36 L738.51,334.81 L738.84,336.26 L739.16,337.71 L739.45,339.18 L739.72,340.64 L739.97,342.11 L740.2,343.59 L740.41,345.07 L740.6,346.55 L740.77,348.04 L740.91,349.53 L741.04,351.02 L741.14,352.51 L741.22,354.01 L741.29,355.51 L741.33,357.01 L741.35,358.51 L741.35,360.02 L741.33,361.52 L741.29,363.02 L741.23,364.53 L741.14,366.03 L741.04,367.54 L740.92,369.04 L740.77,370.55 L740.61,372.05 L740.42,373.55 L740.22,375.05 L740,376.54 L739.75,378.03 L739.49,379.53 L739.2,381.01 L738.9,382.5 L738.57,383.98 L738.23,385.45 L737.87,386.93 L737.49,388.39 L737.08,389.86 L736.66,391.31 L736.22,392.76 L735.77,394.21 L735.29,395.65 L734.79,397.08 L734.28,398.51 L733.75,399.93 L733.19,401.34 L732.62,402.75 L732.04,404.14 L731.43,405.53 L730.81,406.91 L730.16,408.28 L729.5,409.64 L728.82,410.99 L728.13,412.33 L727.42,413.66 L726.69,414.98 L725.94,416.3 L725.17,417.59 L724.39,418.88 L723.59,420.16 L722.77,421.42 L721.94,422.67 L721.09,423.91 L720.22,425.14 L719.34,426.35 L718.44,427.55 L717.52,428.74 L716.59,429.91 L715.64,431.06 L714.67,432.21 L713.69,433.33 L712.69,434.44 L711.68,435.54 L710.65,436.62 L709.61,437.68 L708.55,438.73 L707.47,439.76 L706.38,440.77 L705.27,441.77 L704.15,442.74 L703.02,443.7 L701.86,444.64 L700.7,445.57 L699.52,446.47 L698.32,447.35 L697.11,448.22 L695.88,449.06 L694.65,449.88 L693.39,450.69 L692.12,451.47 L690.84,452.23 L689.55,452.97 L688.24,453.69 L686.92,454.39 L685.59,455.07 L684.24,455.73 L682.89,456.37 L681.52,456.99 L680.15,457.6 L678.76,458.18 L677.37,458.74 L675.96,459.28 L674.55,459.81 L673.13,460.31 L671.7,460.8 L670.26,461.27 L668.81,461.71 L667.36,462.14 L665.9,462.56 L664.44,462.95 L662.97,463.32 L661.49,463.68 L660.01,464.02 L658.53,464.34 L657.04,464.64 L655.55,464.93 L654.05,465.2 L652.55,465.45 L651.05,465.68 L649.55,465.9 L648.04,466.1 L646.54,466.28 L645.03,466.45 L643.52,466.6 L642.02,466.73 L640.51,466.85 L639,466.95 L637.5,467.03 L636,467.1 L634.49,467.15 L632.99,467.18 L631.5,467.2 L630.01,467.21 L628.52,467.2 L627.03,467.17 L625.55,467.13 L624.07,467.07 L622.6,467"/>
<path d="M214,442.6 L215.38,443.27 L216.76,443.9 L218.16,444.51 L219.56,445.07 L220.97,445.61 L222.38,446.12 L223.8,446.59 L225.23,447.04 L226.66,447.46 L228.1,447.85 L229.54,448.22 L230.99,448.56 L232.45,448.88 L233.91,449.17 L235.37,449.44 L236.84,449.7 L238.31,449.93 L239.79,450.14 L241.27,450.34 L242.75,450.52 L244.24,450.68 L245.72,450.83 L247.22,450.96 L248.71,451.08 L250.21,451.19 L251.71,451.28 L253.21,451.37 L254.71,451.44 L256.21,451.51 L257.72,451.57 L259.22,451.63 L260.73,451.68 L262.23,451.72 L263.74,451.76 L265.25,451.8 L266.76,451.83 L268.26,451.85 L269.77,451.88 L271.28,451.89 L272.79,451.91 L274.3,451.92 L275.81,451.93 L277.32,451.93 L278.83,451.94 L280.34,451.94 L281.86,451.93 L283.37,451.93 L284.88,451.92 L286.39,451.91 L287.91,451.9 L289.42,451.88 L290.93,451.87 L292.44,451.85 L293.96,451.83 L295.47,451.81 L296.99,451.79 L298.5,451.77 L300.01,451.75 L301.53,451.72 L303.04,451.7 L304.55,451.68 L306.07,451.66 L307.58,451.64 L309.1,451.61 L310.61,451.59 L312.12,451.57 L313.64,451.55 L315.15,451.53 L316.67,451.52 L318.18,451.5 L319.69,451.49 L321.21,451.47 L322.72,451.46 L324.23,451.46 L325.74,451.45 L327.26,451.45 L328.77,451.45 L330.28,451.45 L331.79,451.45 L333.3,451.46 L334.81,451.47 L336.32,451.48 L337.84,451.49 L339.35,451.51 L340.86,451.52 L342.37,451.54 L343.88,451.57 L345.39,451.59 L346.9,451.62 L348.4,451.65 L349.91,451.68 L351.42,451.71 L352.93,451.75 L354.44,451.79 L355.95,451.83 L357.46,451.88 L358.96,451.92 L360.47,451.97 L361.98,452.02 L363.49,452.07 L364.99,452.13 L366.5,452.19 L368.01,452.25 L369.51,452.31 L371.02,452.37 L372.53,452.44 L374.03,452.51 L375.54,452.58 L377.04,452.65 L378.55,452.73 L380.05,452.81 L381.56,452.89 L383.06,452.97 L384.57,453.05 L386.07,453.14 L387.58,453.23 L389.08,453.32 L390.59,453.41 L392.09,453.51 L393.6,453.61 L395.1,453.71 L396.6,453.81 L398.11,453.92 L399.61,454.02 L401.11,454.13 L402.62,454.24 L404.12,454.36 L405.62,454.47 L407.12,454.59 L408.63,454.71 L410.13,454.83 L411.63,454.96 L413.13,455.08 L414.64,455.21 L416.14,455.34 L417.64,455.48 L419.14,455.61 L420.64,455.75 L422.15,455.89 L423.65,456.03 L425.15,456.18 L426.65,456.32 L428.15,456.47 L429.65,456.62 L431.15,456.77 L432.65,456.93 L434.15,457.08 L435.65,457.24 L437.15,457.4 L438.65,457.57 L440.15,457.73 L441.65,457.9 L443.15,458.07 L444.65,458.24 L446.15,458.42 L447.65,458.59 L449.15,458.77 L450.65,458.95 L452.14,459.13 L453.64,459.32 L455.14,459.51 L456.64,459.69 L458.14,459.89 L459.63,460.08 L461.13,460.27 L462.63,460.47 L464.12,460.67 L465.62,460.87 L467.12,461.08 L468.61,461.28 L470.11,461.49 L471.6,461.7 L473.1,461.92 L474.59,462.13 L476.09,462.35 L477.58,462.57 L479.07,462.79 L480.57,463.01 L482.06,463.24 L483.55,463.47 L485.05,463.7 L486.54,463.93 L488.03,464.16 L489.52,464.4 L491.01,464.64 L492.5,464.88 L494,465.12 L495.49,465.36 L496.98,465.61 L498.47,465.86 L499.96,466.11 L501.44,466.37 L502.93,466.62 L504.42,466.88 L505.91,467.14 L507.4,467.4 L508.88,467.67 L510.37,467.93 L511.86,468.2 L513.34,468.47 L514.83,468.74 L516.31,469.02 L517.8,469.3 L519.28,469.58 L520.77,469.86 L522.25,470.14 L523.73,470.43 L525.22,470.71 L526.7,471 L528.18,471.3 L529.66,471.59 L531.14,471.89 L532.62,472.19 L534.1,472.5 L535.58,472.81 L537.06,473.12 L538.53,473.44 L540,473.76 L541.48,474.09 L542.95,474.43 L544.41,474.77 L545.88,475.12 L547.35,475.47 L548.81,475.83 L550.27,476.2 L551.73,476.57 L553.18,476.95 L554.64,477.34 L556.09,477.74 L557.54,478.15 L558.98,478.57 L560.43,478.99 L561.87,479.43 L563.3,479.87 L564.74,480.33 L566.17,480.79 L567.6,481.26 L569.02,481.74 L570.44,482.23 L571.86,482.73 L573.28,483.24 L574.69,483.75 L576.1,484.28 L577.51,484.81 L578.92,485.35 L580.32,485.89 L581.72,486.45 L583.12,487.01 L584.51,487.58 L585.9,488.16 L587.29,488.74 L588.68,489.33 L590.06,489.93 L591.44,490.54 L592.82,491.15 L594.2,491.77 L595.57,492.39 L596.94,493.02 L598.31,493.66 L599.68,494.31 L601.04,494.96 L602.4,495.61 L603.76,496.27 L605.12,496.94 L606.47,497.61 L607.82,498.28 L609.17,498.96 L610.52,499.64 L611.87,500.32 L613.22,501.01 L614.56,501.69 L615.9,502.38 L617.25,503.07 L618.59,503.76 L619.93,504.45 L621.27,505.14 L622.61,505.83 L623.95,506.52 L625.29,507.21 L626.62,507.89 L627.96,508.57 L629.3,509.26 L630.64,509.93 L631.98,510.61 L633.32,511.28 L634.66,511.94 L636,512.6"/>
<circle cx="258" cy="335.5" r="13.6" stroke-width="2.6"/>
<path d="M380.6,473.5 L525.8,491.5" stroke-width="12.6" stroke-linecap="round"/>
<rect x="808.6" y="299.5" width="50.8" height="141.6" fill="#9d9d9d" stroke-width="2.75"/>
<path d="M121.1,789.9 L845.8,790.3 L845.8,805.3 L815,805.3"/>
<path d="M121.1,789.9 L122.6,804.4 L151.4,804.4"/>
<path d="M150.2,790 L174.5,930 C178.3,951.7 192,969.8 214,969.8 L236,969.6 L239.4,976.9 L275.7,976.9 L279,969.6 L712,969.8 C730,970.2 746.1,957.6 752.5,943 L820,790"/>
<path d="M239.6,977 L275.5,977" stroke-width="3.1"/>
</g>
<g fill="none" stroke="#000" stroke-width="2.0" stroke-linejoin="miter" stroke-miterlimit="2.4" stroke-linecap="butt">
<g role="img" aria-label="170" transform="translate(479.9,82.6)"><g transform="translate(-25.2,0)"><path d="M4.0,-20.0 L8.4,-20.6 V0"/></g><g transform="translate(-8.4,0)"><path d="M2.2,-20.7 H14.2 L3.8,0"/></g><g transform="translate(8.4,0)"><ellipse cx="8.4" cy="-10.85" rx="6.3" ry="9.85"/></g></g>
<g role="img" aria-label="157" transform="translate(479.5,124.4)"><g transform="translate(-25.2,0)"><path d="M4.0,-20.0 L8.4,-20.6 V0"/></g><g transform="translate(-8.4,0)"><path d="M14.1,-20.7 H4.7 L4,-11.8 A6.4,6.4 0 1 1 1.8,-4.3"/></g><g transform="translate(8.4,0)"><path d="M2.2,-20.7 H14.2 L3.8,0"/></g></g>
<g role="img" aria-label="128" transform="translate(479.8,165.7)"><g transform="translate(-25.2,0)"><path d="M4.0,-20.0 L8.4,-20.6 V0"/></g><g transform="translate(-8.4,0)"><path d="M2.1,-15.4 C2.1,-18.6 5,-20.7 8.4,-20.7 C11.9,-20.7 14.5,-18.4 14.5,-15.2 C14.5,-13.2 13.5,-11.8 12.2,-10.5 L2.3,-1 H15.1"/></g><g transform="translate(8.4,0)"><ellipse cx="8.5" cy="-16.4" rx="4.5" ry="4.3"/><ellipse cx="8.5" cy="-6.05" rx="6" ry="5.05"/></g></g>
<g role="img" aria-label="32" transform="translate(190,568)"><g transform="translate(-16.8,0)"><path d="M2.4,-17 C3,-19.3 5,-20.7 7.7,-20.7 C10.5,-20.7 12.6,-18.9 12.6,-16.4 C12.6,-13.8 10.6,-12 7.6,-12 H6.2 M7.6,-12 C11.4,-12 14.1,-9.6 14.1,-6.4 C14.1,-3.1 11.4,-0.9 8.1,-0.9 C5,-0.9 2.6,-2.6 1.6,-5.4"/></g><g transform="translate(0,0)"><path d="M2.1,-15.4 C2.1,-18.6 5,-20.7 8.4,-20.7 C11.9,-20.7 14.5,-18.4 14.5,-15.2 C14.5,-13.2 13.5,-11.8 12.2,-10.5 L2.3,-1 H15.1"/></g></g>
<g role="img" aria-label="50" transform="translate(728.8,597)"><g transform="translate(-16.8,0)"><path d="M14.1,-20.7 H4.7 L4,-11.8 A6.4,6.4 0 1 1 1.8,-4.3"/></g><g transform="translate(0,0)"><ellipse cx="8.4" cy="-10.85" rx="6.3" ry="9.85"/></g></g>
<g role="img" aria-label="6,5" transform="translate(125.5,724)"><g transform="translate(-20.85,0)"><path d="M10.9,-20.7 L3.41,-9.08"/><ellipse cx="8.4" cy="-6.35" rx="5.8" ry="5.35"/></g><g transform="translate(-4.05,0)"><path d="M4.6,-2.6 L2.2,2.3"/></g><g transform="translate(4.05,0)"><path d="M14.1,-20.7 H4.7 L4,-11.8 A6.4,6.4 0 1 1 1.8,-4.3"/></g></g>
<g role="img" aria-label="5" transform="translate(172.2,724)"><g transform="translate(-8.4,0)"><path d="M14.1,-20.7 H4.7 L4,-11.8 A6.4,6.4 0 1 1 1.8,-4.3"/></g></g>
<g role="img" aria-label="24" transform="translate(779.2,729.8)"><g transform="translate(-16.8,0)"><path d="M2.1,-15.4 C2.1,-18.6 5,-20.7 8.4,-20.7 C11.9,-20.7 14.5,-18.4 14.5,-15.2 C14.5,-13.2 13.5,-11.8 12.2,-10.5 L2.3,-1 H15.1"/></g><g transform="translate(0,0)"><path d="M12.4,0 V-21 L2,-6.4 H15.4"/></g></g>
<g role="img" aria-label="6,5" transform="translate(846,728.4)"><g transform="translate(-20.85,0)"><path d="M10.9,-20.7 L3.41,-9.08"/><ellipse cx="8.4" cy="-6.35" rx="5.8" ry="5.35"/></g><g transform="translate(-4.05,0)"><path d="M4.6,-2.6 L2.2,2.3"/></g><g transform="translate(4.05,0)"><path d="M14.1,-20.7 H4.7 L4,-11.8 A6.4,6.4 0 1 1 1.8,-4.3"/></g></g>
<g role="img" aria-label="50" transform="translate(47.5,313.1) rotate(-90)"><g transform="translate(-16.8,0)"><path d="M14.1,-20.7 H4.7 L4,-11.8 A6.4,6.4 0 1 1 1.8,-4.3"/></g><g transform="translate(0,0)"><ellipse cx="8.4" cy="-10.85" rx="6.3" ry="9.85"/></g></g>
<g role="img" aria-label="30,5" transform="translate(91.9,270) rotate(-90)"><g transform="translate(-29.25,0)"><path d="M2.4,-17 C3,-19.3 5,-20.7 7.7,-20.7 C10.5,-20.7 12.6,-18.9 12.6,-16.4 C12.6,-13.8 10.6,-12 7.6,-12 H6.2 M7.6,-12 C11.4,-12 14.1,-9.6 14.1,-6.4 C14.1,-3.1 11.4,-0.9 8.1,-0.9 C5,-0.9 2.6,-2.6 1.6,-5.4"/></g><g transform="translate(-12.45,0)"><ellipse cx="8.4" cy="-10.85" rx="6.3" ry="9.85"/></g><g transform="translate(4.35,0)"><path d="M4.6,-2.6 L2.2,2.3"/></g><g transform="translate(12.45,0)"><path d="M14.1,-20.7 H4.7 L4,-11.8 A6.4,6.4 0 1 1 1.8,-4.3"/></g></g>
<g role="img" aria-label="55" transform="translate(888,372.5) rotate(-90)"><g transform="translate(-16.8,0)"><path d="M14.1,-20.7 H4.7 L4,-11.8 A6.4,6.4 0 1 1 1.8,-4.3"/></g><g transform="translate(0,0)"><path d="M14.1,-20.7 H4.7 L4,-11.8 A6.4,6.4 0 1 1 1.8,-4.3"/></g></g>
<g role="img" aria-label="65" transform="translate(923,372.5) rotate(-90)"><g transform="translate(-16.8,0)"><path d="M10.9,-20.7 L3.41,-9.08"/><ellipse cx="8.4" cy="-6.35" rx="5.8" ry="5.35"/></g><g transform="translate(0,0)"><path d="M14.1,-20.7 H4.7 L4,-11.8 A6.4,6.4 0 1 1 1.8,-4.3"/></g></g>
<g role="img" aria-label="75" transform="translate(966,372.5) rotate(-90)"><g transform="translate(-16.8,0)"><path d="M2.2,-20.7 H14.2 L3.8,0"/></g><g transform="translate(0,0)"><path d="M14.1,-20.7 H4.7 L4,-11.8 A6.4,6.4 0 1 1 1.8,-4.3"/></g></g>
<g role="img" aria-label="5" transform="translate(908.3,171.7) rotate(-90)"><g transform="translate(-8.4,0)"><path d="M14.1,-20.7 H4.7 L4,-11.8 A6.4,6.4 0 1 1 1.8,-4.3"/></g></g>
<g role="img" aria-label="5" transform="translate(908.5,579.8) rotate(-90)"><g transform="translate(-8.4,0)"><path d="M14.1,-20.7 H4.7 L4,-11.8 A6.4,6.4 0 1 1 1.8,-4.3"/></g></g>
<g role="img" aria-label="3" transform="translate(910.4,744.4) rotate(-90)"><g transform="translate(-8.4,0)"><path d="M2.4,-17 C3,-19.3 5,-20.7 7.7,-20.7 C10.5,-20.7 12.6,-18.9 12.6,-16.4 C12.6,-13.8 10.6,-12 7.6,-12 H6.2 M7.6,-12 C11.4,-12 14.1,-9.6 14.1,-6.4 C14.1,-3.1 11.4,-0.9 8.1,-0.9 C5,-0.9 2.6,-2.6 1.6,-5.4"/></g></g>
<g role="img" aria-label="43" transform="translate(969.9,879.2) rotate(-90)"><g transform="translate(-16.8,0)"><path d="M12.4,0 V-21 L2,-6.4 H15.4"/></g><g transform="translate(0,0)"><path d="M2.4,-17 C3,-19.3 5,-20.7 7.7,-20.7 C10.5,-20.7 12.6,-18.9 12.6,-16.4 C12.6,-13.8 10.6,-12 7.6,-12 H6.2 M7.6,-12 C11.4,-12 14.1,-9.6 14.1,-6.4 C14.1,-3.1 11.4,-0.9 8.1,-0.9 C5,-0.9 2.6,-2.6 1.6,-5.4"/></g></g>
<g role="img" aria-label="ca. 10 cm" transform="translate(901.7,0) rotate(-90)"><path transform="translate(-130.85,0)" d="M5.37,-11.35 A6.05,7.15 0 1 0 5.37,-4.75"/><g transform="translate(-113.85,0)"><ellipse cx="0" cy="-8.05" rx="6.05" ry="7.15"/><path d="M6.85,-16.1 V0"/></g><circle transform="translate(-100.6,0)" cx="0" cy="-1.7" r="1.75" fill="#000" stroke="none"/><path transform="translate(-83.3,0)" d="M-3,-20.0 L0,-20.6 V0"/><ellipse transform="translate(-69.55,0)" cx="0" cy="-10.8" rx="5.15" ry="9.8"/><path transform="translate(-46.85,0)" d="M5.19,-11.35 A5.85,7.15 0 1 0 5.19,-4.75"/><path transform="translate(-26,0)" d="M-9.7,0 V-15.8 M-9.7,-10.2 A4.85,4.85 0 0 1 0,-10.2 V0 M0,-10.2 A4.7,4.7 0 0 1 9.4,-10.2 V0"/></g>
</g>
</svg>
</body></html>
